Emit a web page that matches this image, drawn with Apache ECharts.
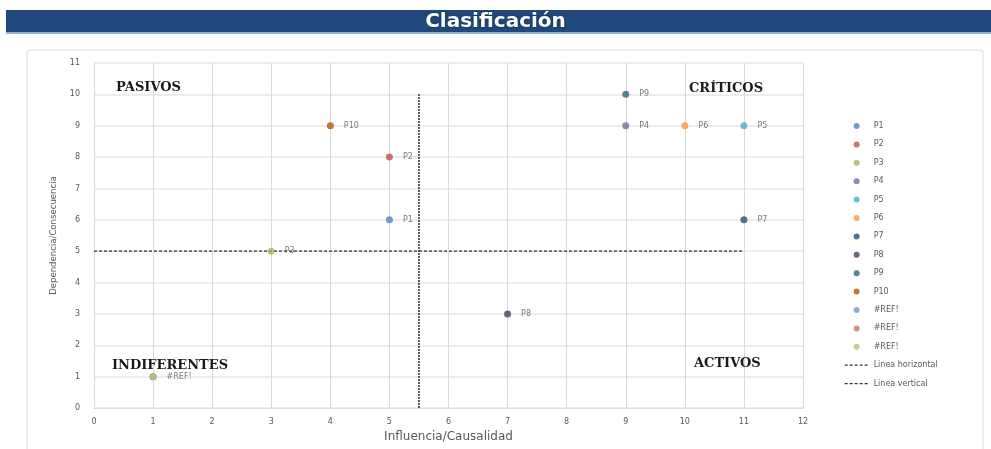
<!DOCTYPE html>
<html>
<head>
<meta charset="utf-8">
<script src="https://cdn.jsdelivr.net/npm/echarts@6/dist/echarts.min.js"></script>
<style>
  html, body { margin: 0; padding: 0; background: #fff; }
  #chart { width: 991px; height: 449px; }
</style>
</head>
<body>
<div id="chart"></div>
<script>
// puntos (influencia, dependencia)
// los tres #REF! llevan espacios de ancho cero para que la leyenda no los junte
var names = ['P1', 'P2', 'P3', 'P4', 'P5', 'P6', 'P7', 'P8', 'P9', 'P10', '#REF!', '#REF!\u200b', '#REF!\u200b\u200b'];
var xVals = [5, 5, 3, 9, 11, 10, 11, 7, 9, 4, 1, 1, 1];
var yVals = [6, 8, 5, 9, 9, 9, 6, 3, 10, 9, 1, 1, 1];
var colors = ['#4f81bd', '#c0504d', '#9bbb59', '#8064a2', '#4bacc6', '#f79646', '#2c4d75', '#4d3b62', '#276a7c', '#b65708', '#729aca', '#cd7371', '#afc97a'];
var lineaHorizontal = [[0, 5], [11, 5]];
var lineaVertical = [[5.5, 0], [5.5, 10]];
var xTicks = [0, 1, 2, 3, 4, 5, 6, 7, 8, 9, 10, 11, 12];
var yTicks = [0, 1, 2, 3, 4, 5, 6, 7, 8, 9, 10, 11];

var chart = echarts.init(document.getElementById('chart'));

var series = [];
names.forEach(function (n, i) {
  series.push({
    name: n,
    type: 'scatter',
    symbolSize: 7,
    itemStyle: { color: colors[i] },
    data: [[xVals[i], yVals[i]]],
    label: {
      show: i < 10 || i === names.length - 1,
      position: 'right',
      distance: 10,
      formatter: n.replace(/\u200b/g, ''),
      color: '#595959',
      fontSize: 8,
      fontFamily: 'DejaVu Sans'
    },
    z: 5
  });
});
series.push({
  name: 'Linea horizontal',
  type: 'line',
  symbol: 'none',
  data: lineaHorizontal,
  lineStyle: { color: '#333', width: 1.3, type: [3, 2] },
  itemStyle: { color: '#333' },
  z: 3
});
series.push({
  name: 'Linea vertical',
  type: 'line',
  symbol: 'none',
  data: lineaVertical,
  lineStyle: { color: '#333', width: 1.6, type: [2, 1] },
  itemStyle: { color: '#333' },
  z: 3
});

var legendData = [];
for (var i = 0; i < names.length; i++) {
  legendData.push({ name: names[i], icon: 'circle', itemStyle: { color: colors[i] } });
}
legendData.push({ name: 'Linea horizontal', itemStyle: { opacity: 0 }, lineStyle: { type: [3, 2], width: 1.3, color: '#333' } });
legendData.push({ name: 'Linea vertical', itemStyle: { opacity: 0 }, lineStyle: { type: [3, 2], width: 1.3, color: '#333' } });

var quadText = function (txt, x, y) {
  return {
    type: 'text',
    left: x, top: y,
    style: {
      text: txt,
      fill: '#1a1a1a',
      font: 'bold 13px "DejaVu Serif"'
    },
    z: 10
  };
};

var option = {
  animation: false,
  title: {
    text: 'Clasificación',
    left: 'center',
    top: 7,
    textStyle: {
      color: '#fff',
      fontSize: 20,
      fontWeight: 'bold',
      fontFamily: 'DejaVu Sans',
      textShadowColor: 'rgba(0,0,0,0.6)',
      textShadowBlur: 2
    }
  },
  graphic: [
    { type: 'rect', shape: { x: 6, y: 10, width: 991, height: 22 }, style: { fill: '#1f497d' }, z: -1 },
    { type: 'rect', shape: { x: 6, y: 32, width: 991, height: 2 }, style: { fill: '#9db0cb' }, z: -1 },
    { type: 'rect', shape: { x: 27, y: 50, width: 956, height: 410, r: 2 }, style: { fill: 'none', stroke: '#d9d9d9', lineWidth: 1 }, z: -1 },
    quadText('PASIVOS', 116, 81),
    quadText('CRÍTICOS', 689, 82),
    quadText('INDIFERENTES', 112, 359),
    quadText('ACTIVOS', 694, 357)
  ],
  legend: {
    orient: 'vertical',
    left: 839,
    top: 117,
    itemGap: 10.4,
    itemWidth: 24,
    itemHeight: 6,
    textStyle: { color: '#595959', fontSize: 8, fontFamily: 'DejaVu Sans' },
    formatter: function (n) { return n.replace(/\u200b/g, ''); },
    data: legendData
  },
  grid: { left: 94, right: 188, top: 63, bottom: 41 },
  xAxis: {
    type: 'value',
    min: 0, max: 12, interval: 1,
    name: 'Influencia/Causalidad',
    nameLocation: 'middle',
    nameGap: 23,
    nameTextStyle: { color: '#595959', fontSize: 12, fontFamily: 'DejaVu Sans' },
    axisLine: { show: true, lineStyle: { color: '#d9d9d9' } },
    axisTick: { show: false },
    axisLabel: {
      color: '#595959', fontSize: 8, fontFamily: 'DejaVu Sans', margin: 10,
      formatter: function (v) { return xTicks.indexOf(v) >= 0 ? String(v) : ''; }
    },
    splitLine: { show: true, lineStyle: { color: '#d9d9d9' } }
  },
  yAxis: {
    type: 'value',
    min: 0, max: 11, interval: 1,
    name: 'Dependencia/Consecuencia',
    nameLocation: 'middle',
    nameGap: 33,
    nameTextStyle: { color: '#595959', fontSize: 9.5, fontFamily: 'DejaVu Sans Condensed' },
    axisLine: { show: true, lineStyle: { color: '#d9d9d9' } },
    axisTick: { show: false },
    axisLabel: {
      color: '#595959', fontSize: 8, fontFamily: 'DejaVu Sans', margin: 14,
      formatter: function (v) { return yTicks.indexOf(v) >= 0 ? String(v) : ''; }
    },
    splitLine: { show: true, lineStyle: { color: '#e6e6e6', width: 1.5 } }
  },
  series: series
};

chart.setOption(option);
</script>
</body>
</html>
